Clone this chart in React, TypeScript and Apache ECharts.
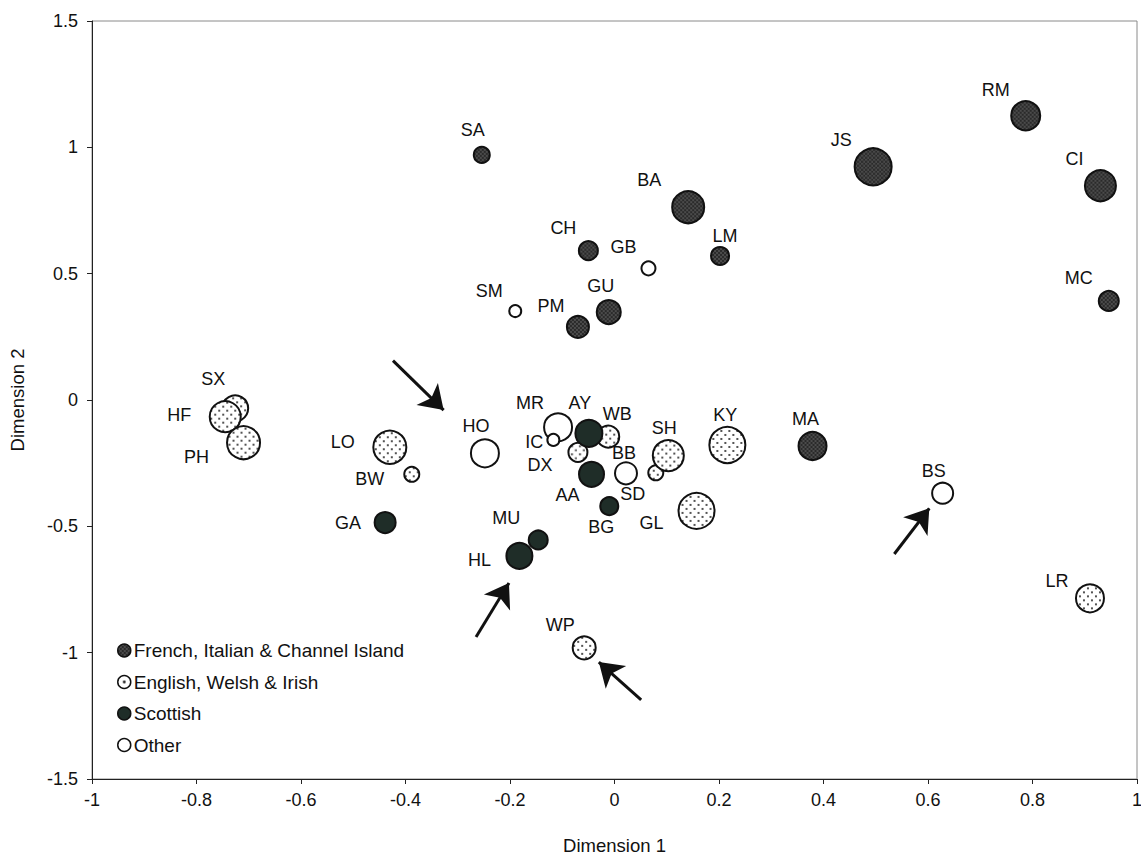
import React, { useEffect, useRef } from "react";
import * as echarts from "echarts";

// Dialect groups (legend order)
const groupNames = [
  "French, Italian & Channel Island",
  "English, Welsh & Irish",
  "Scottish",
  "Other",
];

// Site codes and their coordinates on the two scaling dimensions
const codes = [
  "SA", "BA", "CH", "GB", "LM", "RM", "JS", "CI", "MC", "SM", "PM", "GU",
  "SX", "HF", "PH", "LO", "BW", "GA", "HO", "MR", "IC", "AY", "WB", "DX",
  "AA", "BB", "SD", "SH", "KY", "BG", "GL", "MU", "HL", "MA", "BS", "LR", "WP",
];
const dim1 = [
  -0.254, 0.141, -0.05, 0.065, 0.202, 0.787, 0.495, 0.93, 0.946, -0.19, -0.07, -0.011,
  -0.726, -0.745, -0.71, -0.43, -0.388, -0.439, -0.248, -0.108, -0.117, -0.049, -0.012, -0.07,
  -0.044, 0.022, 0.079, 0.103, 0.216, -0.01, 0.157, -0.146, -0.182, 0.379, 0.628, 0.91, -0.058,
];
const dim2 = [
  0.97, 0.763, 0.591, 0.521, 0.57, 1.125, 0.923, 0.848, 0.392, 0.352, 0.289, 0.348,
  -0.033, -0.066, -0.169, -0.187, -0.294, -0.485, -0.211, -0.108, -0.158, -0.132, -0.145, -0.207,
  -0.294, -0.29, -0.288, -0.22, -0.178, -0.42, -0.439, -0.554, -0.617, -0.182, -0.369, -0.785, -0.981,
];
// Relative bubble weight of each site
const weight = [
  1.6, 3.2, 1.9, 1.4, 1.8, 2.9, 3.7, 3.1, 2.0, 1.2, 2.2, 2.4,
  2.6, 3.1, 3.3, 3.3, 1.5, 2.1, 2.8, 2.8, 1.2, 2.7, 2.2, 1.9,
  2.5, 2.2, 1.5, 3.1, 3.6, 1.8, 3.6, 1.9, 2.6, 2.8, 2.1, 2.8, 2.3,
];
// Group index of each site (into groupNames)
const group = [
  0, 0, 0, 3, 0, 0, 0, 0, 0, 3, 0, 0,
  1, 1, 1, 1, 1, 2, 3, 3, 3, 2, 1, 1,
  2, 3, 1, 1, 1, 2, 1, 2, 2, 0, 3, 1, 1,
];

// Annotation arrows: tail and tip in data units
const arrowFrom = [
  [-0.424, 0.156],
  [-0.265, -0.938],
  [0.051, -1.187],
  [0.5355, -0.6095],
];
const arrowTo = [
  [-0.327, -0.04],
  [-0.202, -0.724],
  [-0.03, -1.037],
  [0.6025, -0.4286],
];

// Label placement around each marker (pixels from centre)
const labelOffset: Record<string, [number, number]> = {
  SA: [-9, -25], BA: [-39, -27], CH: [-25, -23], GB: [-25, -21], LM: [5, -20],
  RM: [-30, -26], JS: [-32, -27], CI: [-26, -27], MC: [-30, -23], SM: [-26, -20],
  PM: [-27, -21], GU: [-8, -26], SX: [-22, -29], HF: [-46, -2], PH: [-47, 14],
  LO: [-47, -5], BW: [-42, 5], GA: [-37, 0], HO: [-9, -27], MR: [-28, -24],
  IC: [-19, 2], AY: [-9, -30], WB: [9, -23], DX: [-38, 13], AA: [-24, 21],
  BB: [-2, -20], SD: [-23, 21], SH: [-4, -28], KY: [-2, -30], BG: [-8, 21],
  GL: [-45, 12], MU: [-32, -22], HL: [-40, 4], MA: [-7, -27], BS: [-9, -22],
  LR: [-33, -17], WP: [-24, -23],
};

const FONT = "'Liberation Sans', Arial, Helvetica, sans-serif";
const INK = "#111";
const SIZE_UNIT = 10;

function makeTile(size: number, bg: string, dotColor: string, r: number, dots: number[][]) {
  const c = document.createElement("canvas");
  c.width = size;
  c.height = size;
  const ctx = c.getContext("2d")!;
  ctx.fillStyle = bg;
  ctx.fillRect(0, 0, size, size);
  ctx.fillStyle = dotColor;
  for (const [x, y] of dots) {
    ctx.beginPath();
    ctx.arc(x, y, r, 0, Math.PI * 2);
    ctx.fill();
  }
  return c.toDataURL();
}

export default function App() {
  const ref = useRef<HTMLDivElement>(null);

  useEffect(() => {
    if (!ref.current) return;
    const chart = echarts.init(ref.current, null, { renderer: "svg" });

    const frenchTile = { src: makeTile(4, "#2a2a2a", "#777777", 0.8, [[1, 1], [3, 3]]), size: 4 };
    const englishTile = { src: makeTile(8, "#ffffff", "#1a1a1a", 1.0, [[2, 2], [6, 6]]), size: 8 };

    // Symbols are drawn in a unit box and scaled by size / 2, so counter-scale the tile.
    const patternFor = (tile: { src: string; size: number }, diameter: number) => ({
      image: tile.src,
      repeat: "repeat",
      imageWidth: tile.size,
      imageHeight: tile.size,
      scaleX: 2 / diameter,
      scaleY: 2 / diameter,
    });

    const fillFor = (gi: number, diameter: number): any => {
      if (gi === 0) return patternFor(frenchTile, diameter);
      if (gi === 1) return patternFor(englishTile, diameter);
      if (gi === 2) return "#1f2d28";
      return "#ffffff";
    };

    const legendFills: any[] = [
      { image: frenchTile.src, repeat: "repeat", imageWidth: 4, imageHeight: 4 },
      {
        image: makeTile(13, "#ffffff", "#1a1a1a", 1.4, [[6.5, 6.5]]),
        repeat: "repeat",
        imageWidth: 13,
        imageHeight: 13,
      },
      "#1f2d28",
      "#ffffff",
    ];

    const scatterSeries = groupNames.map((gName, gi) => ({
      name: gName,
      type: "scatter",
      symbol: "circle",
      itemStyle: {
        color: gi === 0 ? "#3c3c3c" : gi === 2 ? "#1f2d28" : "#ffffff",
        borderColor: INK,
        borderWidth: 2,
        opacity: 1,
      },
      label: {
        show: true,
        position: "inside",
        formatter: (p: any) => p.name,
        fontFamily: FONT,
        fontSize: 18,
        color: INK,
      },
      emphasis: { disabled: true },
      data: codes
        .map((c, i) => ({ i, c }))
        .filter(({ i }) => group[i] === gi)
        .map(({ i, c }) => {
          const d = weight[i] * SIZE_UNIT;
          return {
            name: c,
            value: [dim1[i], dim2[i], weight[i]],
            symbolSize: d,
            itemStyle: { color: fillFor(gi, d) },
            label: { offset: labelOffset[c] || [0, -20] },
          };
        }),
      z: 3,
    }));

    chart.setOption({
      animation: false,
      backgroundColor: "#ffffff",
      grid: {
        left: 92,
        right: 4,
        top: 21,
        bottom: 76,
        containLabel: false,
        outerBoundsMode: "none",
        show: true,
        borderColor: "#8a8a8a",
        borderWidth: 1,
      },
      legend: {
        orient: "vertical",
        left: 117,
        top: 641,
        padding: 0,
        itemWidth: 13,
        itemHeight: 13,
        itemGap: 12.5,
        icon: "circle",
        itemStyle: { borderWidth: 1.5, borderColor: INK },
        textStyle: { fontFamily: FONT, fontSize: 19, lineHeight: 19, color: INK, padding: [0, 0, 0, -2] },
        data: groupNames.map((n, gi) => ({ name: n, itemStyle: { color: legendFills[gi] } })),
      },
      xAxis: {
        type: "value",
        min: -1,
        max: 1,
        interval: 0.2,
        name: "Dimension 1",
        nameLocation: "middle",
        nameGap: 57,
        nameTextStyle: { fontFamily: FONT, fontSize: 18.5, color: INK },
        axisLine: { show: true, onZero: false, lineStyle: { color: "#222", width: 1 } },
        axisTick: { show: true, length: 5, lineStyle: { color: "#222" } },
        splitLine: { show: false },
        axisLabel: { fontFamily: FONT, fontSize: 18, color: INK, margin: 12 },
      },
      yAxis: {
        type: "value",
        min: -1.5,
        max: 1.5,
        interval: 0.5,
        name: "Dimension 2",
        nameLocation: "middle",
        nameGap: 65,
        nameTextStyle: { fontFamily: FONT, fontSize: 18.5, color: INK },
        axisLine: { show: true, onZero: false, lineStyle: { color: "#222", width: 1 } },
        axisTick: { show: true, length: 5, lineStyle: { color: "#222" } },
        splitLine: { show: false },
        axisLabel: { fontFamily: FONT, fontSize: 18, color: INK, margin: 14 },
      },
      series: [
        ...scatterSeries,
        {
          type: "lines",
          coordinateSystem: "cartesian2d",
          silent: true,
          symbol: ["none", "arrow"],
          symbolSize: 23,
          lineStyle: { color: INK, width: 3, opacity: 1 },
          data: arrowFrom.map((f, i) => ({ coords: [f, arrowTo[i]] })),
          z: 4,
        },
      ],
    } as any);

    return () => chart.dispose();
  }, []);

  return (
    <div
      ref={ref}
      style={{ position: "absolute", left: 0, top: 0, width: 1141, height: 855, background: "#fff" }}
    />
  );
}
